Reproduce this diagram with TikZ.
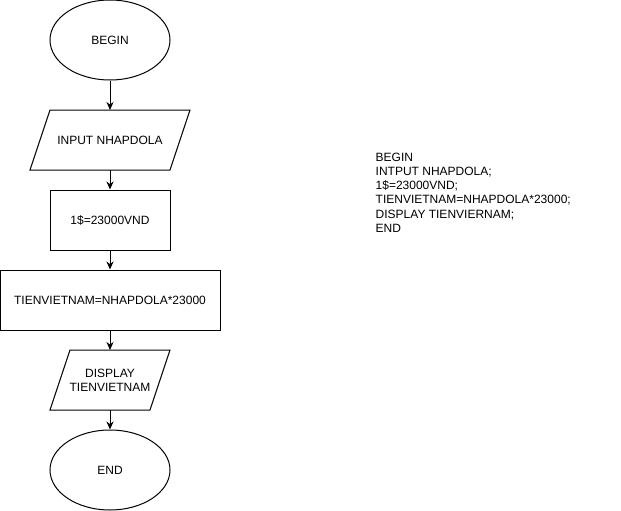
\documentclass[tikz,border=0pt]{standalone}
\usepackage{fontspec}
\setmainfont{Liberation Sans}
\usetikzlibrary{shapes.geometric,arrows.meta}

% outline of an input/output box round a plain node
\newcommand{\ioframe}[1]{%
    \draw[line width=1pt] ([xshift=20pt]#1.north west) -- (#1.north east)
        -- ([xshift=-20pt]#1.south east) -- (#1.south west) -- cycle;}

\begin{document}
\begin{tikzpicture}[
        x=1pt, y=-1pt,
        every node/.style={font=\fontsize{12pt}{14.3pt}\selectfont, inner sep=2pt},
        terminal/.style={draw=black, line width=1pt, ellipse, minimum width=120pt, minimum height=80pt},
        process/.style={draw=black, line width=1pt, rectangle, minimum height=60pt},
        io/.style={rectangle, minimum height=60pt, align=center, outer sep=0pt},
        flow/.style={line width=1pt, -{Stealth[length=8pt,width=7pt]}}
    ]
        \useasboundingbox (0,0) rectangle (621,511);

        \node[terminal] (begin) at (110,40) {BEGIN};
        \node[io, minimum width=160pt] (input) at (110,140) {INPUT NHAPDOLA};
        \node[process, minimum width=120pt] (rate) at (110,220) {1\$=23000VND};
        \node[process, minimum width=220pt] (calc) at (110,300) {TIENVIETNAM=NHAPDOLA*23000};
        \node[io, minimum width=120pt] (display) at (110,380) {DISPLAY\\TIENVIETNAM};
        \node[terminal] (end) at (110,470) {END};

        \ioframe{input}
        \ioframe{display}

        \draw[flow] (begin) -- (input);
        \draw[flow] (input) -- (rate);
        \draw[flow] (rate) -- (calc);
        \draw[flow] (calc) -- (display);
        \draw[flow] (display) -- (end);

        % pseudo code
        \node[anchor=north west, inner sep=0pt, align=left] (code) at (375.5,152.5)
            {BEGIN\\INTPUT NHAPDOLA;\\1\$=23000VND;\\TIENVIETNAM=NHAPDOLA*23000;\\DISPLAY TIENVIERNAM;\\END};
    \end{tikzpicture}
\end{document}
